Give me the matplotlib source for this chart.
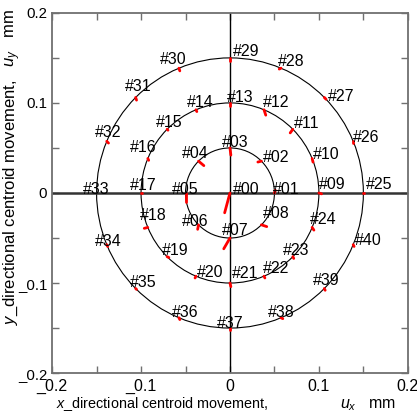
import numpy as np
import matplotlib
matplotlib.use("Agg")
import matplotlib.pyplot as plt
from matplotlib.patches import Circle

plt.rcParams['font.family'] = ['Liberation Sans', 'DejaVu Sans']
plt.rcParams['mathtext.fontset'] = 'custom'
plt.rcParams['mathtext.rm'] = 'Liberation Sans'
plt.rcParams['mathtext.it'] = 'Liberation Sans:italic'

# measuring points: centre + three rings (radius in mm, angle in degrees)
ring_radius = [0.05, 0.10, 0.15]
ring1_angles = [0, 45, 90, 135, 180, 225, 270, 315]
ring2_angles = [0, 22.5, 45, 67.5, 90, 112.5, 135, 157.5,
                180, 202.5, 225, 247.5, 270, 292.5, 315, 337.5]
ring3_angles = [0, 22.5, 45, 67.5, 90, 112.5, 135, 157.5,
                180, 202.5, 225, 247.5, 270, 292.5, 315, 337.5]

# centroid movement traces: end offset of each point's trace (mm)
trace_dx = [-0.006, 0.001, -0.004, 0.001, 0.006, 0.000, -0.001, -0.007, 0.006,
            0.003, 0.001, -0.003, 0.002, 0.000, 0.001, 0.001, 0.001,
            0.001, -0.004, 0.002, -0.001, 0.001, 0.001, 0.001, 0.002,
            0.001, 0.000, 0.002, -0.002, 0.000, 0.001, 0.001, 0.002,
            0.001, 0.001, 0.001, 0.001, 0.000, 0.002, 0.001, 0.001]
trace_dy = [-0.022, 0.003, -0.001, -0.008, -0.005, -0.010, -0.005, -0.012, -0.002,
            -0.001, -0.004, -0.004, -0.006, -0.003, -0.002, -0.001, -0.002,
            0.000, -0.001, -0.001, -0.002, -0.004, -0.002, -0.002, -0.003,
            0.000, -0.002, -0.002, -0.001, -0.004, -0.003, -0.003, -0.002,
            0.000, -0.002, -0.001, -0.002, -0.002, -0.001, -0.002, -0.002]

# label offsets from the point (pixels)
lab_dx = [3, -1.5, 1.5, -8, -16.5, -13.5, -16.5, -8, 1.5,
          0, 1, 1, -1, -3, -9, -11, -18, -11, -8, -5, 1, 2, -1, -10, -2,
          2.5, 0, 3.7, -3, 3, -19, -10.7, -11.7, -13.5, -11.7, -5.7, -7, -13, -13, -11, 2]
lab_dy = [-1, -1, -1, 1, 3, -1, -1, 3, 7,
          4, 0, 1.4, 2.8, 1, 2.8, 2.4, 6.5, 3, 7.5, 1.6, -1, 5, 3, 1.6, 3.5,
          4, -0.7, -4, 2.5, 2, 4.5, 6.6, 4.3, -1, -1, 1.5, 0.7, 0, 0.7, 3.5, 0]

node_r = [0.0] + [ring_radius[0]] * 8 + [ring_radius[1]] * 16 + [ring_radius[2]] * 16
node_a = [0.0] + ring1_angles + ring2_angles + ring3_angles
node_x = np.array(node_r) * np.cos(np.radians(node_a))
node_y = np.array(node_r) * np.sin(np.radians(node_a))

fig = plt.figure(figsize=(4.17, 4.15), dpi=100)
ax = fig.add_axes([0.125, 0.101, 0.853, 0.868])
ax.set_xlim(-0.2, 0.2)
ax.set_ylim(-0.2, 0.2)

for r in ring_radius:
    ax.add_patch(Circle((0, 0), r, fill=False, color='black', lw=0.8, zorder=2))
ax.axhline(0, color='#333333', lw=1.8, zorder=2)
ax.axvline(0, color='black', lw=1.0, zorder=2)

for i in range(len(node_x)):
    ax.plot([node_x[i], node_x[i] + trace_dx[i]], [node_y[i], node_y[i] + trace_dy[i]],
            color='red', lw=2.0, solid_capstyle='round', zorder=3)
    ax.annotate('#%02d' % i, (node_x[i], node_y[i]), xytext=(lab_dx[i], lab_dy[i]),
                textcoords='offset pixels', ha='left', va='baseline', fontsize=11.5, zorder=4)

major = [-0.2, -0.1, 0, 0.1, 0.2]
major_labels = ['_0.2', '_0.1', '0', '0.1', '0.2']
ax.set_xticks(major)
ax.set_xticklabels(major_labels)
ax.set_yticks(major)
ax.set_yticklabels(major_labels)
ax.set_xticks([-0.15, -0.05, 0.05, 0.15], minor=True)
ax.set_yticks([-0.15, -0.05, 0.05, 0.15], minor=True)
for which in ['major', 'minor']:
    ax.tick_params(which=which, direction='in', length=5, width=1, color='#707070',
                   top=True, right=True, pad=4)
ax.tick_params(axis='x', labelsize=11.5)
ax.tick_params(axis='y', labelsize=10.8, pad=3.5)

for s in ax.spines.values():
    s.set_color('#707070')
    s.set_linewidth(1.3)

ax.text(0.309, -0.097, r'$x$_directional centroid movement,', transform=ax.transAxes,
        ha='center', va='baseline', fontsize=10.4)
ax.text(0.809, -0.097, r'$u_x$   mm', transform=ax.transAxes,
        ha='left', va='baseline', fontsize=11.5)
ax.text(-0.104, 0.475, r'$y$_directional centroid movement,', transform=ax.transAxes,
        ha='center', va='baseline', rotation=90, rotation_mode='anchor', fontsize=12)
ax.text(-0.104, 0.93, r'$u_y$   mm', transform=ax.transAxes,
        ha='center', va='baseline', rotation=90, rotation_mode='anchor', fontsize=12)

fig.savefig('out.png', dpi=100)
